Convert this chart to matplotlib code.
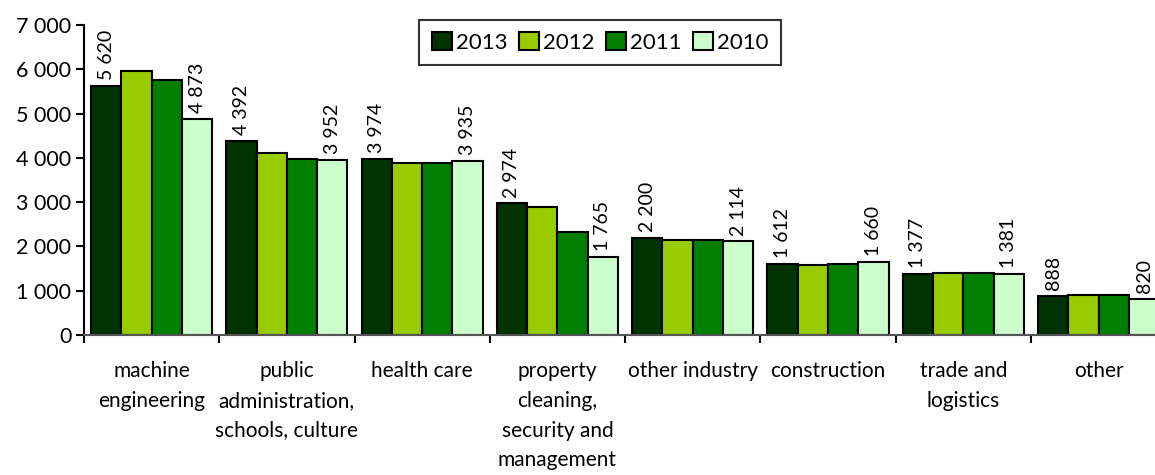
import numpy as np
import matplotlib
matplotlib.use("Agg")
import matplotlib.pyplot as plt

plt.rcParams['font.family'] = ['Lato', 'DejaVu Sans']

sectors = ['machine\nengineering', 'public\nadministration,\nschools, culture',
           'health care', 'property\ncleaning,\nsecurity and\nmanagement',
           'other industry', 'construction', 'trade and\nlogistics', 'other']
years = ['2013', '2012', '2011', '2010']
v2013 = [5620, 4392, 3974, 2974, 2200, 1612, 1377, 888]
v2012 = [5960, 4110, 3890, 2880, 2150, 1590, 1400, 910]
v2011 = [5760, 3970, 3880, 2330, 2150, 1600, 1400, 900]
v2010 = [4873, 3952, 3935, 1765, 2114, 1660, 1381, 820]
colors = ['#003300', '#99cc00', '#008000', '#ccffcc']


def fmt(v):
    return '{:,}'.format(int(v)).replace(',', ' ')


fig = plt.figure(figsize=(11.55, 4.75), dpi=100)
ax = fig.add_axes([0.0727, 0.2947, 0.937, 0.6526])

x = np.arange(len(sectors)) + 0.5
w = 0.224
series = [v2013, v2012, v2011, v2010]
for k, (vals, col, yr) in enumerate(zip(series, colors, years)):
    pos = x + (k - 1.5) * w
    ax.bar(pos, vals, w, color=col, edgecolor='black', linewidth=1.5, label=yr)
    # only first and last year get value labels
    if yr in ('2013', '2010'):
        for p, v in zip(pos, vals):
            ax.text(p, v + 130, fmt(v), rotation=90, ha='center', va='bottom', fontsize=14)

ax.set_xlim(0, len(sectors))
ax.set_ylim(0, 7000)
ax.set_yticks(np.arange(0, 7001, 1000))
ax.set_yticklabels([fmt(t) for t in np.arange(0, 7001, 1000)], fontsize=15.5)
ax.set_xticks(np.arange(0, len(sectors) + 1))
ax.set_xticklabels([])
ax.tick_params(axis='both', direction='out', length=6, width=1.5, color='black')
ax.tick_params(axis='y', pad=3)
for s in ['top', 'right']:
    ax.spines[s].set_visible(False)
ax.spines['left'].set_linewidth(1.5)
ax.spines['bottom'].set_linewidth(1.5)
ax.spines['bottom'].set_color('#555555')

for xi, lab in zip(x, sectors):
    ax.text(xi, -0.085, lab, transform=ax.get_xaxis_transform(), ha='center', va='top',
            fontsize=15, linespacing=1.6)

leg = ax.legend(loc='upper center', bbox_to_anchor=(0.477, 1.017), ncol=4,
                frameon=True, fancybox=False, fontsize=16, handlelength=0.9, handleheight=0.9,
                handletextpad=0.2, columnspacing=0.5, borderpad=0.55, borderaxespad=0)
leg.get_frame().set_edgecolor('black')
leg.get_frame().set_linewidth(1.5)

fig.savefig('out.png', dpi=100)
